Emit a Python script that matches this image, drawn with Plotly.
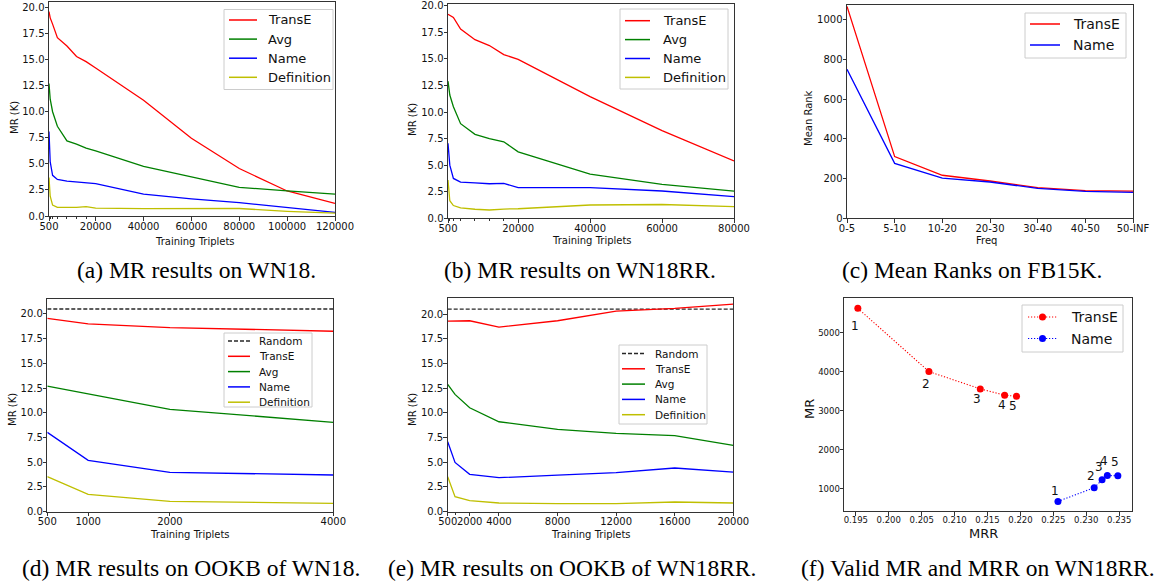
import plotly.graph_objects as go

W, H = 1155, 585

# ---------------- data ----------------
# (a) MR results on WN18
a_x = [500, 1000, 2000, 4000, 8000, 12000, 16000, 20000, 40000, 60000, 80000, 100000, 120000]
a_transe = [19.6, 19.0, 18.4, 17.1, 16.3, 15.3, 14.8, 14.2, 11.1, 7.45, 4.55, 2.4, 1.2]
a_avg = [12.7, 11.2, 10.0, 8.6, 7.2, 6.9, 6.5, 6.25, 4.75, 3.77, 2.75, 2.4, 2.1]
a_name = [8.1, 5.2, 3.9, 3.5, 3.35, 3.25, 3.2, 3.1, 2.1, 1.65, 1.28, 0.8, 0.35]
a_def = [3.7, 1.9, 1.05, 0.83, 0.83, 0.82, 0.9, 0.75, 0.7, 0.72, 0.72, 0.45, 0.28]
a_xticks = [500, 20000, 40000, 60000, 80000, 100000, 120000]

# (b) MR results on WN18RR
b_x = [500, 1000, 2000, 4000, 8000, 12000, 16000, 20000, 40000, 60000, 80000]
b_transe = [19.2, 19.1, 18.9, 17.8, 16.8, 16.25, 15.4, 14.95, 11.45, 8.25, 5.4]
b_avg = [12.9, 11.6, 10.5, 8.9, 7.9, 7.5, 7.2, 6.25, 4.15, 3.2, 2.55]
b_name = [7.05, 5.0, 3.75, 3.4, 3.33, 3.25, 3.28, 2.88, 2.88, 2.57, 2.04]
b_def = [3.6, 1.65, 1.2, 0.98, 0.85, 0.78, 0.87, 0.9, 1.25, 1.3, 1.1]
b_xticks = [500, 20000, 40000, 60000, 80000]

# (c) Mean Ranks on FB15K
c_bins = ["0-5", "5-10", "10-20", "20-30", "30-40", "40-50", "50-INF"]
c_transe = [1068, 311, 217, 188, 155, 139, 137]
c_name = [751, 277, 202, 183, 151, 136, 131]
c_yticks = [0, 200, 400, 600, 800, 1000]

# (d) MR results on OOKB of WN18
d_x = [500, 1000, 2000, 4000]
d_random = [20.5, 20.5, 20.5, 20.5]
d_transe = [19.56, 18.99, 18.62, 18.25]
d_avg = [12.71, 11.9, 10.35, 9.04]
d_name = [8.03, 5.19, 3.98, 3.71]
d_def = [3.54, 1.75, 1.05, 0.84]
d_xticks = [500, 1000, 2000, 4000]

# (e) MR results on OOKB of WN18RR
e_x = [500, 1000, 2000, 4000, 8000, 12000, 16000, 20000]
e_random = [20.5, 20.5, 20.5, 20.5, 20.5, 20.5, 20.5, 20.5]
e_transe = [19.29, 19.29, 19.32, 18.68, 19.32, 20.3, 20.57, 21.0]
e_avg = [12.88, 11.87, 10.52, 9.1, 8.33, 7.93, 7.69, 6.71]
e_name = [7.08, 4.99, 3.78, 3.44, 3.71, 3.95, 4.42, 4.01]
e_def = [3.54, 1.52, 1.11, 0.88, 0.81, 0.81, 0.98, 0.88]
e_xticks = [500, 2000, 4000, 8000, 12000, 16000, 20000]

# (f) Valid MR and MRR on WN18RR
f_transe_mrr = [0.1953, 0.2061, 0.2139, 0.2176, 0.2194]
f_transe_mr = [5623, 4002, 3559, 3397, 3371]
f_name_mrr = [0.2257, 0.2312, 0.2324, 0.2332, 0.2348]
f_name_mr = [676, 1026, 1230, 1341, 1333]
f_labels = ["1", "2", "3", "4", "5"]
f_xticks = [0.195, 0.200, 0.205, 0.210, 0.215, 0.220, 0.225, 0.230, 0.235]
f_yticks = [1000, 2000, 3000, 4000, 5000]

mr_ticks = [0, 2.5, 5, 7.5, 10, 12.5, 15, 17.5, 20]

captions = [
    "(a) MR results on WN18.",
    "(b) MR results on WN18RR.",
    "(c) Mean Ranks on FB15K.",
    "(d) MR results on OOKB of WN18.",
    "(e) MR results on OOKB of WN18RR.",
    "(f) Valid MR and MRR on WN18RR.",
]

# ---------------- style ----------------
RED, GREEN, BLUE, YEL = "#ff0000", "#008000", "#0000ff", "#bfbf00"
RAND = "rgba(0,0,0,0.85)"
AXC = "#333333"
FONT = "DejaVu Sans"
LW = 1.3
DOT = "1.2px,1.8px"

# plot areas in pixels: (left, right, top, bottom)
boxes = {
    "a": (49, 335, 1.5, 216),
    "b": (448, 734, 4, 218.3),
    "c": (847, 1133, 5, 218.3),
    "d": (47.3, 333.3, 299.3, 511.7),
    "e": (447.7, 733.3, 298.3, 511.7),
    "f": (844, 1131.7, 298.3, 511),
}
order = ["a", "b", "c", "d", "e", "f"]


def px(x):
    return x / W


def py(y):
    return 1 - y / H


fig = go.Figure()


def add_line(i, x, y, name, color, dash="solid", width=LW, mode="lines", marker=None):
    sfx = "" if i == 1 else str(i)
    tr = go.Scatter(
        x=x, y=y, name=name, mode=mode,
        line=dict(color=color, width=width, dash=dash),
        xaxis="x" + sfx, yaxis="y" + sfx, showlegend=False,
    )
    if marker:
        tr.marker = marker
    fig.add_trace(tr)


def series4(t, a, n, d):
    return [("TransE", t, RED), ("Avg", a, GREEN), ("Name", n, BLUE), ("Definition", d, YEL)]


# (a)
for nm, ys, col in series4(a_transe, a_avg, a_name, a_def):
    add_line(1, a_x, ys, nm, col)
# (b)
for nm, ys, col in series4(b_transe, b_avg, b_name, b_def):
    add_line(2, b_x, ys, nm, col)
# (c)
add_line(3, c_bins, c_transe, "TransE", RED)
add_line(3, c_bins, c_name, "Name", BLUE)
# (d)
add_line(4, d_x, d_random, "Random", RAND, dash="4px,2px")
for nm, ys, col in series4(d_transe, d_avg, d_name, d_def):
    add_line(4, d_x, ys, nm, col)
# (e)
add_line(5, e_x, e_random, "Random", RAND, dash="4px,2px")
for nm, ys, col in series4(e_transe, e_avg, e_name, e_def):
    add_line(5, e_x, ys, nm, col)
# (f)
add_line(6, f_transe_mrr, f_transe_mr, "TransE", RED, dash=DOT, width=1.1,
         mode="lines+markers", marker=dict(color=RED, size=7))
add_line(6, f_name_mrr, f_name_mr, "Name", BLUE, dash=DOT, width=1.1,
         mode="lines+markers", marker=dict(color=BLUE, size=7))


def axis_common(fs=10):
    return dict(showline=True, mirror=True, linecolor=AXC, linewidth=1,
                ticks="outside", ticklen=3.5, tickwidth=1, tickcolor=AXC,
                showgrid=False, zeroline=False, automargin=False, tickangle=0,
                tickfont=dict(family=FONT, size=fs, color="#111"))


layout = dict(width=W, height=H, margin=dict(l=0, r=0, t=0, b=0, autoexpand=False),
              template="none", paper_bgcolor="white", plot_bgcolor="white",
              showlegend=False)

xspecs = {
    "a": dict(range=[500, 120000], tickmode="array", tickvals=a_xticks,
              ticktext=[str(v) for v in a_xticks],
              minor=dict(tickmode="array", tickvals=[v for v in a_x if v not in a_xticks],
                         ticks="outside", ticklen=2, tickcolor=AXC)),
    "b": dict(range=[500, 80000], tickmode="array", tickvals=b_xticks,
              ticktext=[str(v) for v in b_xticks],
              minor=dict(tickmode="array", tickvals=[v for v in b_x if v not in b_xticks],
                         ticks="outside", ticklen=2, tickcolor=AXC)),
    "c": dict(type="category", range=[0, len(c_bins) - 1], tickmode="array",
              tickvals=c_bins, ticktext=c_bins),
    "d": dict(range=[500, 4000], tickmode="array", tickvals=d_xticks,
              ticktext=[str(v) for v in d_xticks]),
    "e": dict(range=[500, 20000], tickmode="array", tickvals=e_xticks,
              ticktext=[str(v) for v in e_xticks],
              minor=dict(tickmode="array", tickvals=[v for v in e_x if v not in e_xticks],
                         ticks="outside", ticklen=2, tickcolor=AXC)),
    "f": dict(range=[0.1932, 0.2369], tickmode="array", tickvals=f_xticks,
              ticktext=["%.3f" % v for v in f_xticks]),
}
yspecs = {
    "a": dict(range=[0, 20.57], tickmode="array", tickvals=mr_ticks,
              ticktext=["%.1f" % v for v in mr_ticks]),
    "b": dict(range=[0, 20.16], tickmode="array", tickvals=mr_ticks,
              ticktext=["%.1f" % v for v in mr_ticks]),
    "c": dict(range=[0, 1075], tickmode="array", tickvals=c_yticks,
              ticktext=[str(v) for v in c_yticks]),
    "d": dict(range=[0, 21.48], tickmode="array", tickvals=mr_ticks,
              ticktext=["%.1f" % v for v in mr_ticks]),
    "e": dict(range=[0, 21.59], tickmode="array", tickvals=mr_ticks,
              ticktext=["%.1f" % v for v in mr_ticks]),
    "f": dict(range=[430, 5880], tickmode="array", tickvals=f_yticks,
              ticktext=[str(v) for v in f_yticks]),
}

for i, k in enumerate(order, start=1):
    l, r, t, b = boxes[k]
    sfx = "" if i == 1 else str(i)
    fs = 8.5 if k == "f" else 10
    xa = axis_common(fs)
    xa.update(xspecs[k])
    xa.update(domain=[px(l), px(r)], anchor="y" + sfx, ticklabelstandoff=-3)
    ya = axis_common(fs)
    ya.update(yspecs[k])
    ya.update(domain=[py(b), py(t)], anchor="x" + sfx, ticklabelstandoff=-2)
    layout["xaxis" + sfx] = xa
    layout["yaxis" + sfx] = ya

fig.update_layout(**layout)

anns = []
shapes = []

# legends drawn matplotlib-style:
# (box l, t, r, b), first row y, row step, line x0, line x1, text x, font size, entries, markers
ent4 = [("TransE", RED, "solid"), ("Avg", GREEN, "solid"), ("Name", BLUE, "solid"),
        ("Definition", YEL, "solid")]
ent5 = [("Random", RAND, "4px,2px")] + ent4
ent2 = [("TransE", RED, "solid"), ("Name", BLUE, "solid")]
ent2f = [("TransE", RED, DOT), ("Name", BLUE, DOT)]
legends = [
    ((224, 9.5, 333, 89.5), 20, 19.1, 229, 257, 266, 13, ent4, False),
    ((620, 9, 728, 89), 20.7, 18.9, 625, 650, 661, 13, ent4, False),
    ((1025, 13, 1126, 58), 24, 21, 1030, 1060, 1071, 14, ent2, False),
    ((224, 333, 312, 407), 341, 15.3, 228, 250, 257, 10.5, ent5, False),
    ((619, 345, 707, 424), 353.5, 15.3, 622, 645, 653, 10.5, ent5, False),
    ((1022, 305, 1123, 352), 317, 21.5, 1028, 1057, 1069, 14, ent2f, True),
]
for (l, t, r, b), y0, step, lx0, lx1, tx, fs, ents, mk in legends:
    shapes.append(dict(type="rect", xref="paper", yref="paper", x0=px(l), x1=px(r),
                       y0=py(b), y1=py(t), line=dict(color="#cccccc", width=1),
                       fillcolor="rgba(255,255,255,0.85)", layer="above"))
    for j, (nm, col, dsh) in enumerate(ents):
        yy = y0 + j * step
        shapes.append(dict(type="line", xref="paper", yref="paper", x0=px(lx0),
                           x1=px(lx1), y0=py(yy), y1=py(yy),
                           line=dict(color=col, width=1.5 if not mk else 1.1, dash=dsh),
                           layer="above"))
        if mk:
            cx = (lx0 + lx1) / 2
            shapes.append(dict(type="circle", xref="paper", yref="paper",
                               x0=px(cx - 3.5), x1=px(cx + 3.5), y0=py(yy + 3.5),
                               y1=py(yy - 3.5), fillcolor=col, line=dict(width=0),
                               layer="above"))
        anns.append(dict(text=nm, x=px(tx), y=py(yy), xref="paper", yref="paper",
                         showarrow=False, xanchor="left", yanchor="middle",
                         font=dict(family=FONT, size=fs, color="#111")))

# axis titles (text, x, y, rotate, size)
ax_titles = [
    ("MR (K)", 15, 118, -90, 10), ("Training Triplets", 195, 241, 0, 10),
    ("MR (K)", 413, 120, -90, 10), ("Training Triplets", 592, 240, 0, 10),
    ("Mean Rank", 809, 118, -90, 10), ("Freq", 986, 240, 0, 10),
    ("MR (K)", 12, 410, -90, 10), ("Training Triplets", 190, 534, 0, 10),
    ("MR (K)", 412, 410, -90, 10), ("Training Triplets", 591, 534, 0, 10),
    ("MR", 809, 409, -90, 13), ("MRR", 983, 533, 0, 13),
]
for txt, x, y, rot, fs in ax_titles:
    anns.append(dict(text=txt, x=px(x), y=py(y), xref="paper", yref="paper",
                     showarrow=False, textangle=rot, xanchor="center", yanchor="middle",
                     font=dict(family=FONT, size=fs, color="#111")))

# captions
cap_pos = [(196, 270, "center"), (580, 270, "center"), (972, 270, "center"),
           (191, 568, "center"), (572, 568, "center"), (799, 568, "left")]
for txt, (x, y, anc) in zip(captions, cap_pos):
    anns.append(dict(text=txt, x=px(x), y=py(y), xref="paper", yref="paper",
                     showarrow=False, xanchor=anc, yanchor="middle",
                     font=dict(family="Liberation Serif", size=23.5, color="black")))

# point labels in (f)
red_shift = [-18, -12, -10, -10, -10]
blue_shift = [10, 12, 13, 14, 14]
for lab, x, y, s in zip(f_labels, f_transe_mrr, f_transe_mr, red_shift):
    anns.append(dict(text=lab, x=x, y=y, xref="x6", yref="y6", showarrow=False,
                     xshift=-3, yshift=s, font=dict(family=FONT, size=12, color="#111")))
for lab, x, y, s in zip(f_labels, f_name_mrr, f_name_mr, blue_shift):
    anns.append(dict(text=lab, x=x, y=y, xref="x6", yref="y6", showarrow=False,
                     xshift=-3, yshift=s, font=dict(family=FONT, size=12, color="#111")))

fig.update_layout(annotations=anns, shapes=shapes)
fig.write_html("out.html", config={"displayModeBar": False},
               post_script="document.body.style.margin='0px';")
